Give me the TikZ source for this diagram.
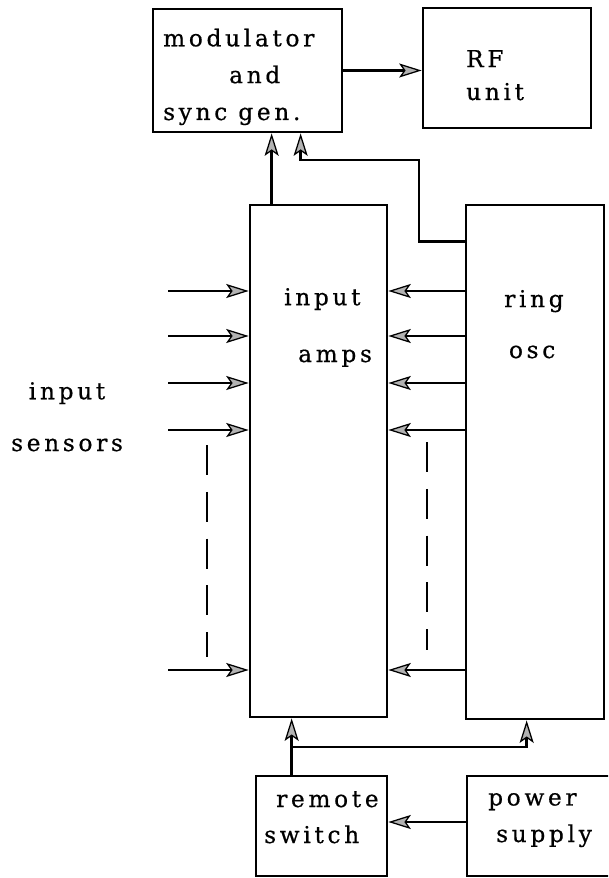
\documentclass[tikz,border=0pt]{standalone}
\usepackage{fontspec}
\setmainfont{DejaVu Serif}[LetterSpace=16,FakeBold=0.6]
\usetikzlibrary{arrows.meta,calc}

\begin{document}
\begin{tikzpicture}[x=0.025cm,y=-0.025cm,line width=1.7pt,
  every node/.style={font=\fontsize{16.5}{26.2}\selectfont},
  blk/.style={draw,line width=1.9pt,inner sep=0pt},
  txt/.style={inner sep=0pt,align=left,anchor=base west},
  sig/.style={-{Stealth[length=16pt,width=10pt,inset=3.5pt,fill=gray!60,line width=.9pt]}},
  gap/.style={line width=2pt,dash pattern=on 0.75cm off 0.42cm}]
\useasboundingbox (0,0) rectangle (608,878);
\clip (0,0) rectangle (608,878);
% boxes
\node[blk,minimum width=4.725cm,minimum height=3.075cm] (mod) at (247.5,70.5) {};
\node[blk,minimum width=4.2cm,minimum height=3.0cm] (rf) at (507,68) {};
\node[blk,minimum width=3.425cm,minimum height=12.8cm] (amps) at (318.5,461) {};
\node[blk,minimum width=3.45cm,minimum height=12.85cm] (ring) at (535,462) {};
\node[blk,minimum width=3.275cm,minimum height=2.5cm] (sw) at (321.5,826) {};
\node[blk,minimum width=4.575cm,minimum height=2.5cm] (ps) at (558.5,826) {};
% texts, placed at the last line
\node[txt] (modtxt) at (162,120) {modulator\\\hspace*{1.65cm}and\\sync gen.};
\node[txt] (rftxt) at (465,100) {RF\\[-2.8pt]unit};
\node[txt] (ampstxt) at (283,362) {input\\[14.2pt]\hspace*{0.35cm}amps};
\node[txt] (ringtxt) at (503,358) {ring\\[10pt]\hspace*{0.12cm}osc};
\node[txt] (swtxt) at (263,843) {\hspace*{0.3cm}remote\\[-0.6pt]switch};
\node[txt] (pstxt) at (487,842) {power\\[-0.2pt]\hspace*{0.2cm}supply};
\node[txt,align=center] (sens) at (10,451) {input\\[10.6pt]sensors};
% signal paths
\draw[sig] (mod.east) -- (mod.east -| rf.west);
\draw[sig] (amps.north west) ++(23,0) coordinate (up1) -- (up1 |- mod.south);
\draw[sig] (ring.north west) ++(0,38) -| (419,160) -| ($(mod.south west)+(149,0)$);
\foreach \i/\y in {1/291,2/336,3/383,4/430,5/670}{
  \coordinate (in\i) at (168,\y);
  \draw[sig] (in\i) -- (in\i -| amps.west);
  \draw[sig] (in\i -| ring.west) -- (in\i -| amps.east);
}
\coordinate (dl1) at (207,445);
\coordinate (dl2) at (207,657);
\coordinate (dr1) at (427,442);
\coordinate (dr2) at (427,650);
\draw[gap] (dl1) -- (dl2);
\draw[gap] (dr1) -- (dr2);
% power
\draw[sig] (sw.north west) ++(37,0) coordinate (pw1) -- (pw1 |- amps.south);
\draw[sig] (pw1 |- 0,747) -| ($(ring.south west)+(62,0)$);
\draw[sig] ([yshift=0.1cm]ps.west) -- ([yshift=0.1cm]ps.west -| sw.east);
\end{tikzpicture}
\end{document}
